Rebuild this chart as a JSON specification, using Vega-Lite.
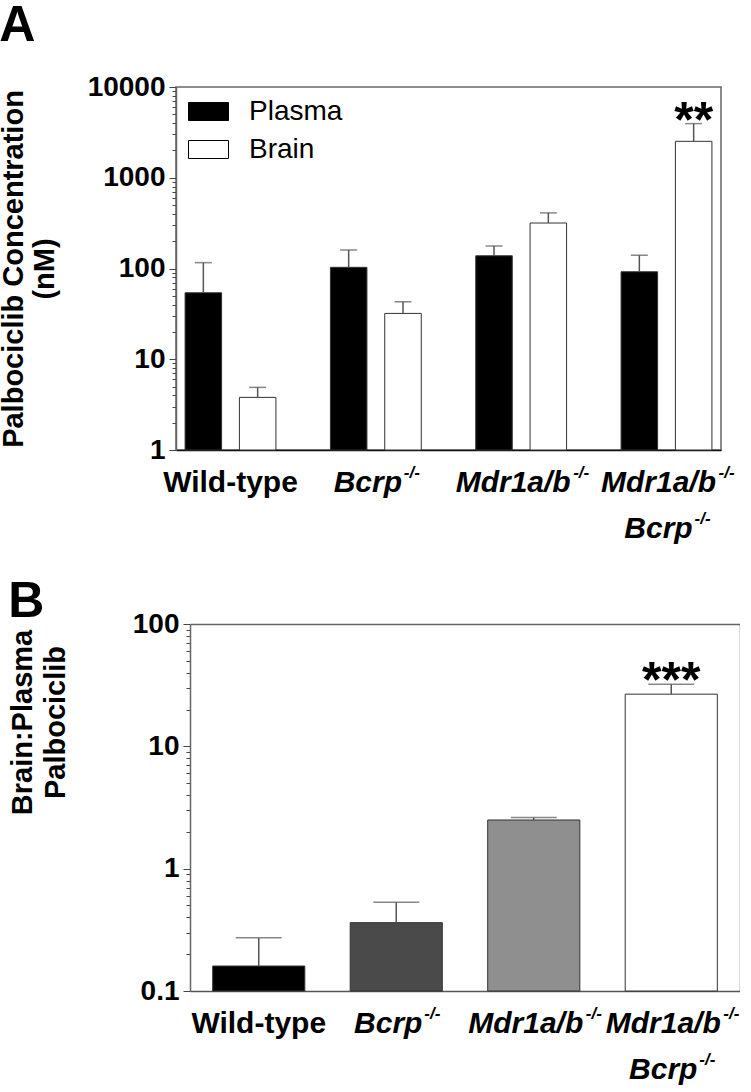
{
  "$schema": "https://vega.github.io/schema/vega-lite/v6.json",
  "padding": {"left": -2, "top": 0, "right": 0, "bottom": 0},
  "background": "white",
  "config": {
    "view": {"stroke": "#666", "strokeWidth": 1.5},
    "font": "Liberation Sans",
    "axis": {"grid": false, "labelFont": "Liberation Sans", "titleFont": "Liberation Sans"}
  },
  "resolve": {"scale": {"fill": "independent"}, "legend": {"fill": "independent"}},
  "datasets": {
    "conc": [
      {"geno": "WT", "tissue": "Plasma", "mean": 54, "hi": 116, "sig": ""},
      {"geno": "WT", "tissue": "Brain", "mean": 3.8, "hi": 4.9, "sig": ""},
      {"geno": "Bcrp", "tissue": "Plasma", "mean": 103, "hi": 160, "sig": ""},
      {"geno": "Bcrp", "tissue": "Brain", "mean": 32, "hi": 43, "sig": ""},
      {"geno": "Mdr", "tissue": "Plasma", "mean": 138, "hi": 177, "sig": ""},
      {"geno": "Mdr", "tissue": "Brain", "mean": 317, "hi": 410, "sig": ""},
      {"geno": "Triple", "tissue": "Plasma", "mean": 92, "hi": 140, "sig": ""},
      {"geno": "Triple", "tissue": "Brain", "mean": 2520, "hi": 3950, "sig": "**"}
    ],
    "ratio": [
      {"geno": "WT", "mean": 0.16, "hi": 0.273, "sig": ""},
      {"geno": "Bcrp", "mean": 0.362, "hi": 0.531, "sig": ""},
      {"geno": "Mdr", "mean": 2.5, "hi": 2.62, "sig": ""},
      {"geno": "Triple", "mean": 26.7, "hi": 32.2, "sig": "***"}
    ],
    "labels": [
      {"geno": "WT", "line1": "Wild-type", "line2": ""},
      {"geno": "Bcrp", "line1": "Bcrp", "line2": ""},
      {"geno": "Mdr", "line1": "Mdr1a/b", "line2": ""},
      {"geno": "Triple", "line1": "Mdr1a/b", "line2": "Bcrp"}
    ]
  },
  "concat": [
    {
      "title": {"text": "A", "anchor": "start", "frame": "bounds", "font": "Liberation Sans", "fontSize": 50, "fontWeight": "bold", "baseline": "alphabetic", "offset": -18},
      "width": 545,
      "height": 363,
      "layer": [
        {
          "data": {"name": "conc"},
          "mark": {"type": "bar", "stroke": "#333", "strokeWidth": 1},
          "encoding": {
            "x": {"field": "geno", "type": "nominal", "scale": {"domain": ["WT", "Bcrp", "Mdr", "Triple"], "paddingInner": 0.375, "paddingOuter": 0.0625},
                  "axis": {"labels": false, "ticks": false, "title": null, "domainColor": "#111", "domainWidth": 1.5}},
            "xOffset": {"field": "tissue", "type": "nominal", "scale": {"domain": ["Plasma", "Brain"], "paddingInner": 0.328, "paddingOuter": 0}},
            "y": {"field": "mean", "type": "quantitative",
                  "scale": {"type": "log", "domain": [1, 10000], "nice": false},
                  "axis": {
                    "title": ["Palbociclib Concentration", "(nM)"],
                    "titleFontSize": 29, "titleFontWeight": "bold", "titleLineHeight": 31, "titlePadding": 28, "titleColor": "#000",
                    "values": [1,2,3,4,5,6,7,8,9,10,20,30,40,50,60,70,80,90,100,200,300,400,500,600,700,800,900,1000,2000,3000,4000,5000,6000,7000,8000,9000,10000],
                    "labelExpr": "abs(log(datum.value)/LN10 - round(log(datum.value)/LN10)) < 0.001 ? toString(datum.value) : ''",
                    "labelOverlap": false, "labelFontSize": 28, "labelFontWeight": "bold", "labelColor": "#000", "labelPadding": 4,
                    "tickSize": {"condition": {"test": "abs(log(datum.value)/LN10 - round(log(datum.value)/LN10)) < 0.001", "value": 7}, "value": 4},
                    "tickColor": "#444", "tickWidth": 1, "domainColor": "#666", "domainWidth": 1.5
                  }},
            "y2": {"datum": 1},
            "fill": {"field": "tissue", "type": "nominal",
                     "scale": {"domain": ["Plasma", "Brain"], "range": ["#000000", "#ffffff"]},
                     "legend": {"title": null, "orient": "none", "legendX": 12, "legendY": 4,
                                "symbolType": "M-1,-0.45L1,-0.45L1,0.45L-1,0.45Z", "symbolSize": 1600,
                                "symbolStrokeColor": "#000", "symbolStrokeWidth": 1,
                                "labelFont": "Liberation Sans", "labelFontSize": 28, "labelFontWeight": "normal", "labelColor": "#000",
                                "labelOffset": 20, "rowPadding": 3}}
          }
        },
        {
          "data": {"name": "conc"},
          "mark": {"type": "rule", "color": "#555", "strokeWidth": 1.5},
          "encoding": {
            "x": {"field": "geno", "type": "nominal"},
            "xOffset": {"field": "tissue", "type": "nominal"},
            "y": {"field": "mean", "type": "quantitative"},
            "y2": {"field": "hi"}
          }
        },
        {
          "data": {"name": "conc"},
          "mark": {"type": "tick", "color": "#555", "thickness": 1.5, "size": 17, "orient": "horizontal"},
          "encoding": {
            "x": {"field": "geno", "type": "nominal"},
            "xOffset": {"field": "tissue", "type": "nominal"},
            "y": {"field": "hi", "type": "quantitative"}
          }
        },
        {
          "data": {"name": "conc"},
          "transform": [{"filter": "datum.sig != ''"}],
          "mark": {"type": "text", "fontSize": 50, "fontWeight": "bold", "baseline": "alphabetic", "dy": 13, "color": "#000"},
          "encoding": {
            "x": {"field": "geno", "type": "nominal"},
            "xOffset": {"field": "tissue", "type": "nominal"},
            "y": {"field": "hi", "type": "quantitative"},
            "text": {"field": "sig"}
          }
        },
        {
          "data": {"name": "labels"},
          "transform": [{"filter": "datum.geno == 'WT'"}],
          "mark": {"type": "text", "fontSize": 30, "fontWeight": "bold", "baseline": "alphabetic", "dy": 42, "color": "#000"},
          "encoding": {"x": {"field": "geno", "type": "nominal"}, "y": {"datum": 1}, "text": {"field": "line1"}}
        },
        {
          "data": {"name": "labels"},
          "transform": [{"filter": "datum.geno != 'WT'"}],
          "mark": {"type": "text", "fontSize": 30, "fontWeight": "bold", "fontStyle": "italic", "baseline": "alphabetic", "dy": 42, "dx": -8, "color": "#000"},
          "encoding": {"x": {"field": "geno", "type": "nominal"}, "y": {"datum": 1}, "text": {"field": "line1"}}
        },
        {
          "data": {"name": "labels"},
          "transform": [{"filter": "datum.geno == 'Triple'"}],
          "mark": {"type": "text", "fontSize": 30, "fontWeight": "bold", "fontStyle": "italic", "baseline": "alphabetic", "dy": 88, "dx": -8, "color": "#000"},
          "encoding": {"x": {"field": "geno", "type": "nominal"}, "y": {"datum": 1}, "text": {"field": "line2"}}
        },
        {
          "data": {"name": "labels"},
          "transform": [{"filter": "datum.geno == 'Bcrp'"}],
          "mark": {"type": "text", "fontSize": 17, "fontWeight": "bold", "fontStyle": "italic", "baseline": "alphabetic", "align": "left", "dy": 28, "dx": 28, "color": "#000"},
          "encoding": {"x": {"field": "geno", "type": "nominal"}, "y": {"datum": 1}, "text": {"value": "-/-"}}
        },
        {
          "data": {"name": "labels"},
          "transform": [{"filter": "datum.geno == 'Mdr' || datum.geno == 'Triple'"}],
          "mark": {"type": "text", "fontSize": 17, "fontWeight": "bold", "fontStyle": "italic", "baseline": "alphabetic", "align": "left", "dy": 28, "dx": 52, "color": "#000"},
          "encoding": {"x": {"field": "geno", "type": "nominal"}, "y": {"datum": 1}, "text": {"value": "-/-"}}
        },
        {
          "data": {"name": "labels"},
          "transform": [{"filter": "datum.geno == 'Triple'"}],
          "mark": {"type": "text", "fontSize": 17, "fontWeight": "bold", "fontStyle": "italic", "baseline": "alphabetic", "align": "left", "dy": 74, "dx": 28, "color": "#000"},
          "encoding": {"x": {"field": "geno", "type": "nominal"}, "y": {"datum": 1}, "text": {"value": "-/-"}}
        }
      ]
    },
    {
      "title": {"text": "B", "anchor": "start", "frame": "bounds", "font": "Liberation Sans", "fontSize": 50, "fontWeight": "bold", "baseline": "alphabetic", "offset": -57},
      "width": 564,
      "height": 367,
      "view": {"stroke": null},
      "resolve": {"axis": {"x": "independent", "y": "independent"}},
      "layer": [
        {
          "data": {"name": "ratio"},
          "mark": {"type": "bar", "stroke": "#333", "strokeWidth": 1},
          "encoding": {
            "x": {"field": "geno", "type": "nominal", "scale": {"domain": ["WT", "Bcrp", "Mdr", "Triple"], "range": [14, 564], "paddingInner": 0.33, "paddingOuter": 0.165},
                  "axis": {"orient": "bottom", "labels": false, "ticks": false, "title": null, "domainColor": "#555", "domainWidth": 1.5}},
            "y": {"field": "mean", "type": "quantitative",
                  "scale": {"type": "log", "domain": [0.1, 100], "nice": false},
                  "axis": {
                    "orient": "left", "offset": -14,
                    "title": ["Brain:Plasma", "Palbociclib"],
                    "titleFontSize": 29, "titleFontWeight": "bold", "titleLineHeight": 33, "titlePadding": 62, "titleColor": "#000", "titleY": 98,
                    "values": [0.1,0.2,0.3,0.4,0.5,0.6,0.7,0.8,0.9,1,2,3,4,5,6,7,8,9,10,20,30,40,50,60,70,80,90,100],
                    "labelExpr": "abs(log(datum.value)/LN10 - round(log(datum.value)/LN10)) < 0.001 ? toString(datum.value) : ''",
                    "labelOverlap": false, "labelFontSize": 28, "labelFontWeight": "bold", "labelColor": "#000", "labelPadding": 4,
                    "tickSize": {"condition": {"test": "abs(log(datum.value)/LN10 - round(log(datum.value)/LN10)) < 0.001", "value": 7}, "value": 4},
                    "tickColor": "#444", "tickWidth": 1, "domainColor": "#666", "domainWidth": 1.5
                  }},
            "y2": {"datum": 0.1},
            "fill": {"field": "geno", "type": "nominal",
                     "scale": {"domain": ["WT", "Bcrp", "Mdr", "Triple"], "range": ["#000000", "#4a4a4a", "#8f8f8f", "#ffffff"]},
                     "legend": null}
          }
        },
        {
          "data": {"name": "ratio"},
          "mark": {"type": "rule", "color": "#555", "strokeWidth": 1.5},
          "encoding": {
            "x": {"field": "geno", "type": "nominal",
                  "axis": {"orient": "top", "labels": false, "ticks": false, "title": null, "domainColor": "#666", "domainWidth": 1.5}},
            "y": {"field": "mean", "type": "quantitative",
                  "axis": {"orient": "right", "labels": false, "ticks": false, "title": null, "domainColor": "#666", "domainWidth": 1.5}},
            "y2": {"field": "hi"}
          }
        },
        {
          "data": {"name": "ratio"},
          "mark": {"type": "tick", "color": "#555", "thickness": 1.5, "size": 46, "orient": "horizontal"},
          "encoding": {
            "x": {"field": "geno", "type": "nominal", "axis": null},
            "y": {"field": "hi", "type": "quantitative", "axis": null}
          }
        },
        {
          "data": {"name": "ratio"},
          "transform": [{"filter": "datum.sig != ''"}],
          "mark": {"type": "text", "fontSize": 50, "fontWeight": "bold", "baseline": "alphabetic", "dy": 13, "color": "#000"},
          "encoding": {
            "x": {"field": "geno", "type": "nominal", "axis": null},
            "y": {"field": "hi", "type": "quantitative", "axis": null},
            "text": {"field": "sig"}
          }
        },
        {
          "data": {"name": "labels"},
          "transform": [{"filter": "datum.geno == 'WT'"}],
          "mark": {"type": "text", "fontSize": 30, "fontWeight": "bold", "baseline": "alphabetic", "dy": 42, "color": "#000"},
          "encoding": {"x": {"field": "geno", "type": "nominal", "axis": null}, "y": {"datum": 0.1, "axis": null}, "text": {"field": "line1"}}
        },
        {
          "data": {"name": "labels"},
          "transform": [{"filter": "datum.geno != 'WT'"}],
          "mark": {"type": "text", "fontSize": 30, "fontWeight": "bold", "fontStyle": "italic", "baseline": "alphabetic", "dy": 42, "dx": -8, "color": "#000"},
          "encoding": {"x": {"field": "geno", "type": "nominal", "axis": null}, "y": {"datum": 0.1, "axis": null}, "text": {"field": "line1"}}
        },
        {
          "data": {"name": "labels"},
          "transform": [{"filter": "datum.geno == 'Triple'"}],
          "mark": {"type": "text", "fontSize": 30, "fontWeight": "bold", "fontStyle": "italic", "baseline": "alphabetic", "dy": 88, "dx": -8, "color": "#000"},
          "encoding": {"x": {"field": "geno", "type": "nominal", "axis": null}, "y": {"datum": 0.1, "axis": null}, "text": {"field": "line2"}}
        },
        {
          "data": {"name": "labels"},
          "transform": [{"filter": "datum.geno == 'Bcrp'"}],
          "mark": {"type": "text", "fontSize": 17, "fontWeight": "bold", "fontStyle": "italic", "baseline": "alphabetic", "align": "left", "dy": 28, "dx": 28, "color": "#000"},
          "encoding": {"x": {"field": "geno", "type": "nominal", "axis": null}, "y": {"datum": 0.1, "axis": null}, "text": {"value": "-/-"}}
        },
        {
          "data": {"name": "labels"},
          "transform": [{"filter": "datum.geno == 'Mdr' || datum.geno == 'Triple'"}],
          "mark": {"type": "text", "fontSize": 17, "fontWeight": "bold", "fontStyle": "italic", "baseline": "alphabetic", "align": "left", "dy": 28, "dx": 52, "color": "#000"},
          "encoding": {"x": {"field": "geno", "type": "nominal", "axis": null}, "y": {"datum": 0.1, "axis": null}, "text": {"value": "-/-"}}
        },
        {
          "data": {"name": "labels"},
          "transform": [{"filter": "datum.geno == 'Triple'"}],
          "mark": {"type": "text", "fontSize": 17, "fontWeight": "bold", "fontStyle": "italic", "baseline": "alphabetic", "align": "left", "dy": 74, "dx": 28, "color": "#000"},
          "encoding": {"x": {"field": "geno", "type": "nominal", "axis": null}, "y": {"datum": 0.1, "axis": null}, "text": {"value": "-/-"}}
        }
      ]
    }
  ],
  "columns": 1,
  "align": "none",
  "spacing": 32
}
